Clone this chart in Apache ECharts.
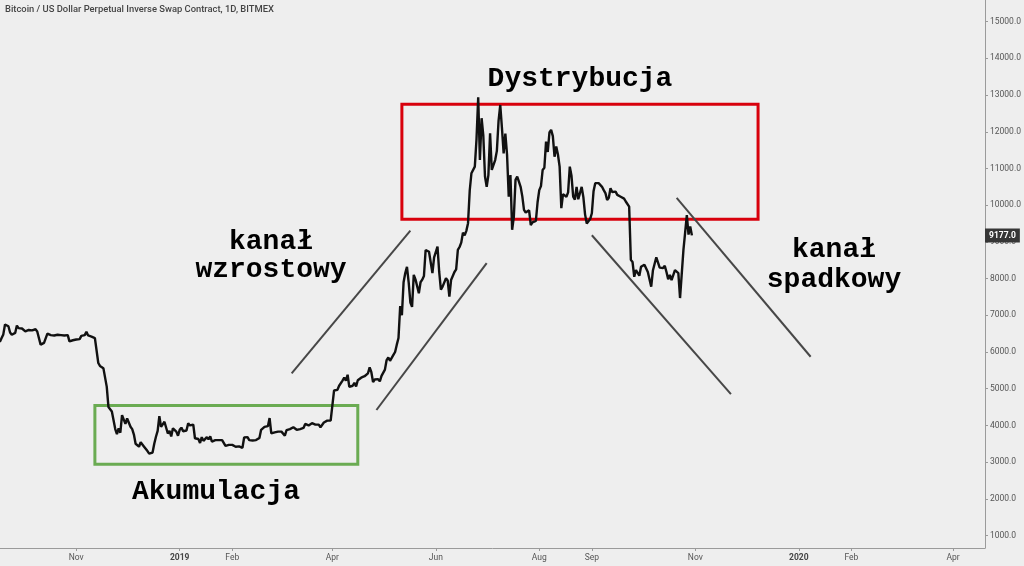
<!DOCTYPE html>
<html>
<head>
<meta charset="utf-8">
<script src="https://cdn.jsdelivr.net/npm/echarts@6/dist/echarts.min.js"></script>
<style>html,body{margin:0;padding:0;background:#eeeeee;}#c{width:1024px;height:566px;}</style>
</head>
<body>
<div id="c"></div>
<script>
// ---- data (daily closes) ----
const startDate = '2018-09-16';
const sep2018 = [6340,6280,6380,6480,6750,6720,6700,6530,6470,6460,6520,6720,6650,6630,6640];
const oct2018 = [6600,6560,6530,6600,6620,6590,6600,6620,6560,6600,6200,6230,6250,6280,6500,6470,6460,6440,6450,6460,6470,6450,6460,6470,6450,6460,6460,6290,6300,6320,6350];
const nov2018 = [6340,6370,6350,6440,6410,6460,6550,6450,6420,6420,6400,6380,6340,5700,5620,5580,5560,5580,5050,4500,4520,4380,4350,3900,3760,3920,3800,4280,4230,4040];
const dec2018 = [4190,4150,3965,3900,3750,3500,3460,3420,3540,3480,3420,3450,3300,3230,3210,3260,3500,3690,3850,4250,3960,4030,4100,4140,3780,3850,3700,3920,3880,3830,3720];
const jan2019 = [3880,3940,3840,3880,3860,4060,4000,4040,4020,3650,3660,3630,3520,3680,3580,3630,3680,3620,3700,3560,3570,3600,3580,3600,3590,3600,3560,3440,3410,3470,3450];
const feb2019 = [3470,3500,3420,3410,3430,3380,3390,3670,3660,3680,3600,3620,3590,3580,3600,3620,3660,3880,3920,3960,3920,3980,4200,3780,3830,3810,3820,3830];
const mar2019 = [3840,3830,3790,3720,3870,3880,3900,3880,3950,3930,3880,3900,3900,3900,3930,4040,4000,4000,4030,4060,4010,4020,4030,4020,3950,3980,4080,4070,4130,4140,4130];
const apr2019 = [4170,4950,5000,4970,5080,5070,5220,5300,5220,5380,5050,5080,5080,5160,5060,5230,5270,5300,5300,5340,5300,5420,5580,5450,5180,5250,5280,5260,5200,5350];
const may2019 = [5400,5520,5780,5850,5760,5730,5920,6000,6200,6380,7250,7000,7900,8150,8320,7900,7350,7230,8100,7980,7960,7600,7900,7970,8070,8780,8800,8730,8680,8150,8580];
const jun2019 = [8600,8870,8180,7700,7780,7800,8010,7950,7510,7960,7920,8180,8250,8780,8860,8980,9250,9180,9300,9510,10400,10870,10900,11050,11800,12940,11230,12370,11900,10780];
const jul2019 = [10500,10820,11960,10960,11000,11230,11480,12300,12730,12100,11410,11950,11380,10230,10820,9330,9680,10690,10780,10640,10500,10240,9870,9800,9760,9860,9460,9530,9550,9570,10080];
const aug2019 = [10410,10520,10960,11020,11730,11450,11980,12050,11880,11320,11600,11380,11050,9920,10300,10320,10230,10350,11050,10800,10230,10150,10500,10160,10200,10500,10220,9750,9500,9560,9620];
const sep2019 = [9780,10380,10600,10590,10600,10640,10500,10410,10330,10140,10200,10460,10360,10370,10370,10280,10230,10230,10200,10180,10100,10050,9960,8510,8450,8050,8230,8220,8080,8320];
const oct2019 = [8350,8380,8420,8180,8150,7780,8220,8200,8580,8600,8300,8280,8290,8350,8180,7980,8100,7960,7960,8230,8280,8150,7470,7450,8780,9250,9730,9200,9420,9177];
const lastPrice = 9177;

// annotation boxes and trend lines (in data coordinates)
const accumBox = [['2018-11-12', 4540], ['2019-04-16', 2940]];
const distBox = [['2019-05-12', 12750], ['2019-12-08', 9620]];
const upTop = [['2019-03-08', 5420], ['2019-05-17', 9305]];
const upBottom = [['2019-04-27', 4420], ['2019-07-01', 8420]];
const downBottom = [['2019-09-01', 9180], ['2019-11-22', 4850]];
const downTop = [['2019-10-21', 10200], ['2020-01-08', 5870]];

// axis ticks
const yTicks = [1000,2000,3000,4000,5000,6000,7000,8000,9000,10000,11000,12000,13000,14000,15000];
const xTickDates = ['2018-11-01','2019-01-01','2019-02-01','2019-04-01','2019-06-01','2019-08-01','2019-09-01','2019-11-01','2020-01-01','2020-02-01','2020-04-01'];
const xTickLabels = ['Nov','2019','Feb','Apr','Jun','Aug','Sep','Nov','2020','Feb','Apr'];

// ---- build ----
const DAY = 86400000;
const t = s => { const p = s.split('-').map(Number); return Date.UTC(p[0], p[1]-1, p[2]); };
const closes = [].concat(sep2018, oct2018, nov2018, dec2018, jan2019, feb2019, mar2019, apr2019, may2019, jun2019, jul2019, aug2019, sep2019, oct2019);
const t0 = t(startDate);
const priceData = closes.map((v, i) => [t0 + i * DAY, v]);
const pts = arr => arr.map(p => [t(p[0]), p[1]]);
const xTickVals = xTickDates.map(t);

const chart = echarts.init(document.getElementById('c'));
const trend = (name, arr) => ({
  name, type: 'line', data: pts(arr), symbol: 'none', silent: true,
  lineStyle: { color: '#474747', width: 2 }, z: 3
});
const box = (arr, color) => ({
  silent: true,
  itemStyle: { color: 'rgba(0,0,0,0)', borderColor: color, borderWidth: 3 },
  data: [[{ coord: [t(arr[0][0]), arr[0][1]] }, { coord: [t(arr[1][0]), arr[1][1]] }]]
});
const monoText = { fontFamily: 'Liberation Mono', fontWeight: 'bold', fontSize: 28, fill: '#000', textAlign: 'center', textVerticalAlign: 'middle' };

chart.setOption({
  backgroundColor: '#eeeeee',
  animation: false,
  grid: { left: 0, right: 39, top: 0, bottom: 18, containLabel: false },
  xAxis: {
    type: 'value',
    min: t('2019-01-01') - 105.95 * DAY,
    max: t('2019-01-01') + 474.8 * DAY,
    axisLine: { show: true, lineStyle: { color: '#9a9a9a', width: 1 } },
    axisTick: { show: true, length: 3, lineStyle: { color: '#9a9a9a' }, customValues: xTickVals },
    splitLine: { show: false },
    axisLabel: {
      customValues: xTickVals,
      color: '#555', fontSize: 8.5, fontFamily: 'Roboto', margin: 5,
      formatter: v => { const i = xTickVals.indexOf(v); const s = i >= 0 ? xTickLabels[i] : ''; return /^\d{4}$/.test(s) ? '{b|' + s + '}' : s; },
      rich: { b: { fontWeight: 'bold', color: '#444', fontSize: 8.5, fontFamily: 'Roboto' } }
    }
  },
  yAxis: {
    type: 'value', position: 'right', min: 660, max: 15590,
    axisLine: { show: true, lineStyle: { color: '#9a9a9a', width: 1 } },
    axisTick: { show: true, length: 3, lineStyle: { color: '#9a9a9a' }, customValues: yTicks },
    splitLine: { show: false },
    axisLabel: { customValues: yTicks, color: '#555', fontSize: 8.5, fontFamily: 'Roboto', margin: 5, formatter: v => v.toFixed(1) }
  },
  series: [
    {
      name: 'XBTUSD', type: 'line', data: priceData, symbol: 'none', z: 4,
      lineStyle: { color: '#111', width: 2.4 },
      markArea: box(accumBox, '#6aab52'),
      markLine: {
        silent: true, symbol: 'none',
        lineStyle: { color: 'rgba(0,0,0,0)', width: 0 },
        label: { show: true, position: 'end', distance: 0, formatter: lastPrice.toFixed(1), backgroundColor: '#363636', color: '#fff', fontSize: 8.5, fontWeight: 'bold', fontFamily: 'Roboto', padding: [3, 4, 2, 4] },
        data: [{ yAxis: lastPrice }]
      }
    },
    {
      name: 'dist', type: 'line', data: [], symbol: 'none',
      markArea: box(distBox, '#d8000c')
    },
    trend('upTop', upTop),
    trend('upBottom', upBottom),
    trend('downBottom', downBottom),
    trend('downTop', downTop)
  ],
  graphic: [
    { type: 'text', left: 5, top: 5, style: { text: 'Bitcoin / US Dollar Perpetual Inverse Swap Contract, 1D, BITMEX', fontFamily: 'Roboto', fontWeight: 500, fontSize: 9.4, fill: '#444' } },
    { type: 'text', x: 580, y: 79, style: Object.assign({ text: 'Dystrybucja' }, monoText) },
    { type: 'text', x: 271, y: 256, style: Object.assign({ text: 'kanał\nwzrostowy', lineHeight: 28 }, monoText) },
    { type: 'text', x: 834, y: 265, style: Object.assign({ text: 'kanał\nspadkowy', lineHeight: 30 }, monoText) },
    { type: 'text', x: 216, y: 492, style: Object.assign({ text: 'Akumulacja' }, monoText) }
  ]
});
</script>
</body>
</html>
